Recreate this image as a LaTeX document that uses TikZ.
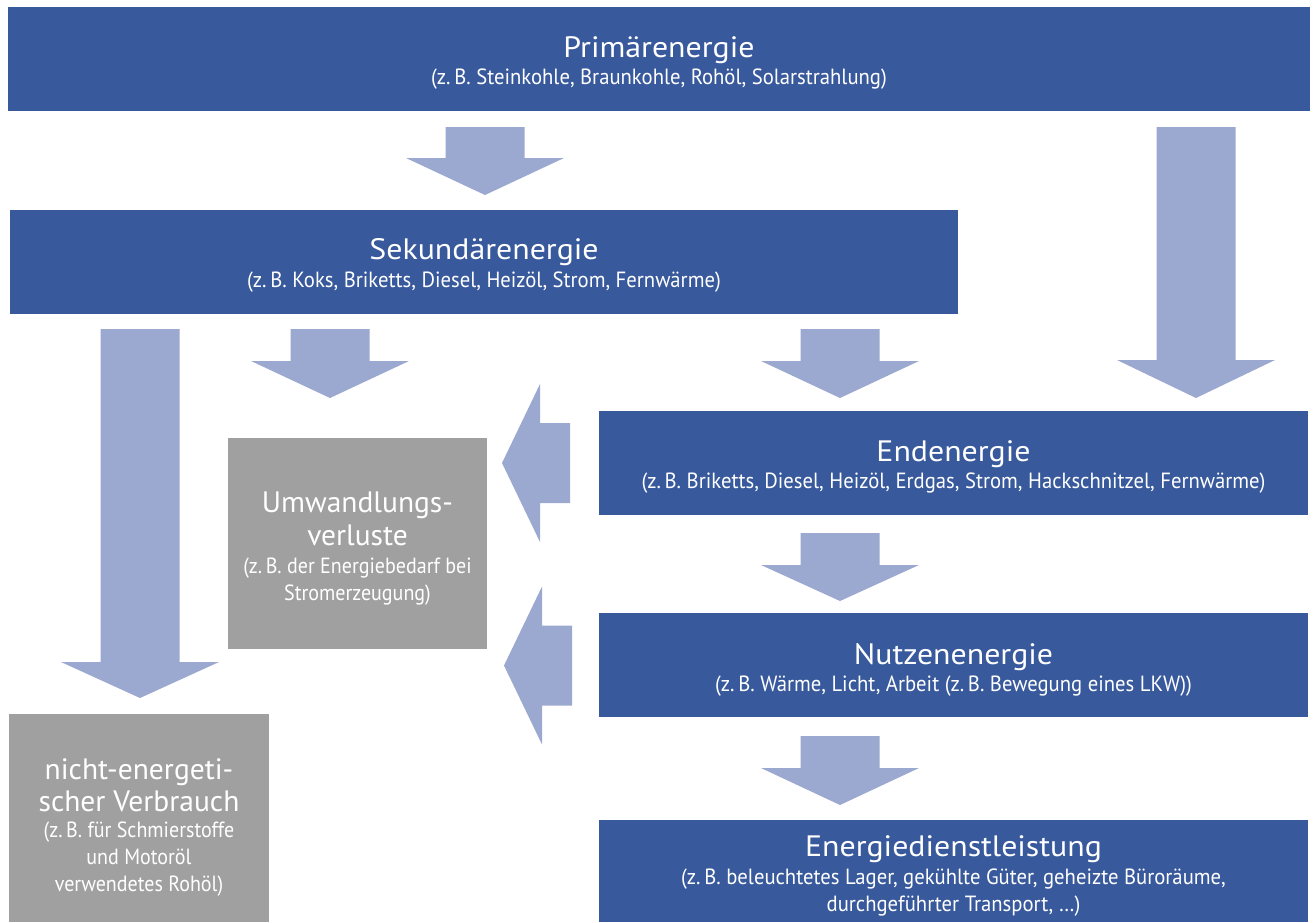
\documentclass[tikz,border=0pt]{standalone}
\usepackage{fontspec}
\usetikzlibrary{calc}
\setmainfont{PT Sans}
\newfontfamily\titlefam{PT Sans}[FakeStretch=1.08]
\newfontfamily\subfam{PT Sans}[FakeStretch=0.94]
\newfontfamily\graysubfam{PT Sans}[FakeStretch=0.91]
\newfontfamily\grayfam{PT Sans}
\definecolor{boxblue}{HTML}{38599C}
\definecolor{flowblue}{HTML}{9BA8CF}
\definecolor{boxgray}{HTML}{A0A0A0}
\begin{document}
\begin{tikzpicture}[x=1pt,y=-1pt,
  bluebox/.style={fill=boxblue,inner sep=0pt,anchor=center},
  graybox/.style={fill=boxgray,inner sep=0pt,anchor=center},
  tline/.style={anchor=base,text=white,inner sep=0pt,font=\titlefam\fontsize{29.5}{30}\selectfont},
  sline/.style={anchor=base,text=white,inner sep=0pt,font=\subfam\fontsize{22}{27}\selectfont},
  gline/.style={anchor=base,text=white,inner sep=0pt,font=\grayfam\fontsize{29.5}{33}\selectfont},
  gsline/.style={anchor=base,text=white,inner sep=0pt,font=\graysubfam\fontsize{22}{27}\selectfont},
  flow/.style={fill=flowblue,draw=none}]
\useasboundingbox (0,0) rectangle (1313,922);

% energy stages
\node[bluebox,minimum width=1302,minimum height=104] (prim) at (659,59) {};
\node[tline] (prim-t) at ($(prim.center)+(0,-2)$) {Primärenergie};
\node[sline] (prim-s) at ($(prim.center)+(0,25)$) {(z.\,B. Steinkohle, Braunkohle, Rohöl, Solarstrahlung)};

\node[bluebox,minimum width=948,minimum height=104] (sek) at (484,262) {};
\node[tline] (sek-t) at ($(sek.center)+(0,-2.5)$) {Sekundärenergie};
\node[sline] (sek-s) at ($(sek.center)+(0,25.5)$) {(z.\,B. Koks, Briketts, Diesel, Heizöl, Strom, Fernwärme)};

\node[bluebox,minimum width=709,minimum height=104] (end) at (953.5,463) {};
\node[tline] (end-t) at ($(end.center)+(0,-2)$) {Endenergie};
\node[sline] (end-s) at ($(end.center)+(0,25)$) {(z.\,B. Briketts, Diesel, Heizöl, Erdgas, Strom, Hackschnitzel, Fernwärme)};

\node[bluebox,minimum width=709,minimum height=104] (nutz) at (953.5,665) {};
\node[tline] (nutz-t) at ($(nutz.center)+(0,-1)$) {Nutzenenergie};
\node[sline] (nutz-s) at ($(nutz.center)+(0,26)$) {(z.\,B. Wärme, Licht, Arbeit (z.\,B. Bewegung eines LKW))};

\node[bluebox,minimum width=709,minimum height=102] (dienst) at (953.5,871) {};
\node[tline] (dienst-t) at ($(dienst.center)+(0,-15)$) {Energiedienstleistung};
\node[sline] (dienst-s1) at ($(dienst.center)+(0,13)$) {(z.\,B. beleuchtetes Lager, gekühlte Güter, geheizte Büroräume,};
\node[sline] (dienst-s2) at ($(dienst.center)+(0,40)$) {durchgeführter Transport, \dots)};

% losses
\node[graybox,minimum width=259,minimum height=211] (verl) at (357.5,543.5) {};
\node[gline] (verl-t1) at ($(verl.center)+(0,-31.5)$) {Umwandlungs-};
\node[gline] (verl-t2) at ($(verl.center)+(0,1.5)$) {verluste};
\node[gsline] (verl-s1) at ($(verl.center)+(0,29.5)$) {(z.\,B. der Energiebedarf bei};
\node[gsline] (verl-s2) at ($(verl.center)+(0,56.5)$) {Stromerzeugung)};

\node[graybox,minimum width=260,minimum height=208] (nicht) at (139,818) {};
\node[gline] (nicht-t1) at ($(nicht.center)+(0,-39)$) {nicht-energeti-};
\node[gline] (nicht-t2) at ($(nicht.center)+(0,-7)$) {scher Verbrauch};
\node[gsline] (nicht-s1) at ($(nicht.center)+(0,19)$) {(z.\,B. für Schmierstoffe};
\node[gsline] (nicht-s2) at ($(nicht.center)+(0,46.5)$) {und Motoröl};
\node[gsline] (nicht-s3) at ($(nicht.center)+(0,73)$) {verwendetes Rohöl)};

% block arrows: #1 centre x, #2 shaft top, #3 head base, #4 tip
\newcommand{\dnflow}[4]{%
  \fill[flow] (#1-39.5,#2) -- (#1+39.5,#2) -- (#1+39.5,#3) -- (#1+79,#3)
    -- (#1,#4) -- (#1-79,#3) -- (#1-39.5,#3) -- cycle;}
% #1 centre y, #2 shaft right, #3 head base, #4 tip x
\newcommand{\ltflow}[4]{%
  \fill[flow] (#2,#1-40) -- (#2,#1+40) -- (#3,#1+40) -- (#3,#1+79)
    -- (#4,#1) -- (#3,#1-79) -- (#3,#1-40) -- cycle;}

\dnflow{485}{127}{158}{195}
\dnflow{1196}{127}{360}{398}
\dnflow{140}{329}{662}{698}
\dnflow{330}{329}{361}{398}
\dnflow{840}{329}{361}{398}
\dnflow{840}{533}{565}{601}
\dnflow{840}{736}{768}{805}
\ltflow{463}{570}{540}{502}
\ltflow{665.5}{572}{542}{504}
\end{tikzpicture}
\end{document}
